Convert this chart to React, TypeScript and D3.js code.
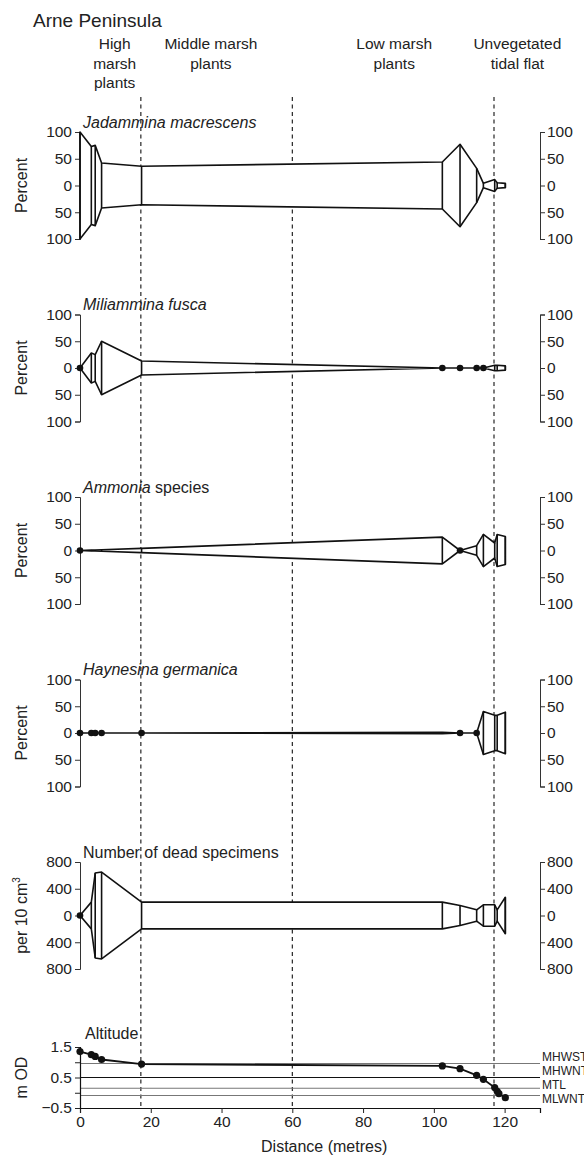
import React, { useEffect, useRef } from 'react';
import * as d3 from 'd3';

// Sample stations along the transect (metres)
const sampleDistances = [0, 3.2, 4.3, 6.1, 17.4, 102.4, 107.4, 112.1, 114.0, 117.2, 117.9, 120.2];

// Relative abundance (%) per station
const jadammina = [100, 73, 75, 42, 36, 44, 77, 32, 4, 11, 5, 4];
const miliammina = [0, 28, 25, 50, 13, 0, 0, 0, 0, 5, 5, 4];
const ammonia = [0, 1, 1, 1.5, 4, 25, 0, 9, 30, 14, 30, 26];
const haynesina = [0, 0, 0, 0, 0, 1.5, 0, 0, 40, 33, 33, 39];
// Number of dead specimens per 10 cm3
const deadSpecimens = [0, 200, 635, 650, 200, 200, 150, 85, 160, 160, 85, 272];

// Altitude survey (m OD)
const altitudeDistances = [0, 3.2, 4.3, 6.1, 17.4, 102.4, 107.4, 112.1, 114.0, 117.2, 117.9, 118.4, 120.2];
const altitudeValues = [1.35, 1.25, 1.19, 1.09, 0.94, 0.88, 0.79, 0.57, 0.44, 0.17, 0.05, -0.03, -0.16];

// Tidal levels
const tidalNames = ['MHWST', 'MHWNT', 'MTL', 'MLWNT'];
const tidalValues = [0.96, 0.5, 0.15, -0.09];
const tidalColors = ['#777', '#111', '#777', '#777'];

// Zone boundaries and labels
const zoneBoundaries = [17.2, 60, 117];
const zoneLabelLines = [
  ['High', 'marsh', 'plants'],
  ['Middle marsh', 'plants'],
  ['Low marsh', 'plants'],
  ['Unvegetated', 'tidal flat'],
];
const zoneLabelCentres = [9.8, 37, 88.8, 123.6];

const percentTicks = [-100, -50, 0, 50, 100];
const countTicks = [-800, -400, 0, 400, 800];
const altitudeTicks = [-0.5, 0, 0.5, 1, 1.5];
const distanceTicks = [0, 20, 40, 60, 80, 100, 120];

const FONT = '"Liberation Sans", Arial, Helvetica, sans-serif';

export default function App() {
  const ref = useRef<SVGSVGElement>(null);

  useEffect(() => {
    const svg = d3.select(ref.current);
    svg.selectAll('*').remove();
    svg.attr('font-family', FONT);

    const x = d3.scaleLinear().domain([0, 130]).range([80, 540]);
    const ya = d3.scaleLinear().domain([-0.5, 1.5]).range([1108, 1047]);

    // Header
    svg.append('text').attr('x', 33).attr('y', 27).attr('font-size', 19).attr('fill', '#222').text('Arne Peninsula');
    zoneLabelLines.forEach((lines, i) => {
      const t = svg.append('text').attr('font-size', 15.5).attr('fill', '#222').attr('text-anchor', 'middle');
      lines.forEach((ln, j) => {
        t.append('tspan').attr('x', x(zoneLabelCentres[i])).attr('y', 49 + j * 19.5).text(ln);
      });
    });

    const panels = [
      { data: jadammina, ticks: percentTicks, max: 100, label: 'Percent', title: [{ t: 'Jadammina macrescens', it: true }] },
      { data: miliammina, ticks: percentTicks, max: 100, label: 'Percent', title: [{ t: 'Miliammina fusca', it: true }] },
      { data: ammonia, ticks: percentTicks, max: 100, label: 'Percent', title: [{ t: 'Ammonia', it: true }, { t: ' species', it: false }] },
      { data: haynesina, ticks: percentTicks, max: 100, label: 'Percent', title: [{ t: 'Haynesina germanica', it: true }] },
      { data: deadSpecimens, ticks: countTicks, max: 800, label: 'per10', title: [{ t: 'Number of dead specimens', it: false }] },
    ];

    // Dashed zone lines (drawn first so marks overlay)
    const dashG = svg.append('g');
    zoneBoundaries.forEach((b) => {
      dashG.append('line')
        .attr('x1', x(b)).attr('x2', x(b))
        .attr('y1', 97).attr('y2', ya(-0.5))
        .attr('stroke', '#111').attr('stroke-width', 1.1)
        .attr('stroke-dasharray', '4,3.5');
    });

    panels.forEach((p, i) => {
      const cy = 185.5 + i * 182.5;
      const half = 53.5;
      const y = d3.scaleLinear().domain([-p.max, p.max]).range([cy + half, cy - half]);
      const g = svg.append('g');

      // left axis
      const la = g.append('g').attr('transform', `translate(${x(0)},0)`)
        .call(d3.axisLeft(y).tickValues(p.ticks).tickSizeOuter(0).tickSize(5).tickPadding(3)
          .tickFormat((d: any) => String(Math.abs(d))));
      // right axis
      const ra = g.append('g').attr('transform', `translate(${x(130)},0)`)
        .call(d3.axisRight(y).tickValues(p.ticks).tickSizeOuter(0).tickSize(5).tickPadding(2)
          .tickFormat((d: any) => String(Math.abs(d))));
      [la, ra].forEach((a) => {
        a.selectAll('text').attr('font-size', 15.5).attr('fill', '#222').attr('font-family', FONT);
        a.selectAll('line').attr('stroke', '#333');
        a.select('.domain').attr('stroke', '#333');
      });

      // y label
      if (p.label === 'Percent') {
        g.append('text').attr('transform', `translate(27,${cy}) rotate(-90)`).attr('text-anchor', 'middle')
          .attr('font-size', 16).attr('fill', '#222').text('Percent');
      } else {
        const t = g.append('text').attr('transform', `translate(27,${cy}) rotate(-90)`).attr('text-anchor', 'middle')
          .attr('font-size', 16).attr('fill', '#222');
        t.append('tspan').text('per 10 cm');
        t.append('tspan').attr('font-size', 10).attr('dy', -7).text('3');
      }

      // title
      const tt = g.append('text').attr('x', 83).attr('y', cy - 58).attr('font-size', 16).attr('fill', '#222');
      p.title.forEach((s) => {
        tt.append('tspan').attr('font-style', s.it ? 'italic' : 'normal').text(s.t);
      });

      // kite
      const pts = sampleDistances.map((d, k) => ({ d, v: p.data[k] }));
      const area = d3.area<{ d: number; v: number }>()
        .x((d) => x(d.d))
        .y0((d) => y(-d.v))
        .y1((d) => y(d.v));
      g.append('path').attr('d', area(pts) as string + 'Z')
        .attr('fill', '#fff').attr('stroke', '#111').attr('stroke-width', 1.6).attr('stroke-linejoin', 'round');
      pts.filter((d) => d.v > 0).forEach((d) => {
        g.append('line').attr('x1', x(d.d)).attr('x2', x(d.d)).attr('y1', y(d.v)).attr('y2', y(-d.v))
          .attr('stroke', '#111').attr('stroke-width', 1.6);
      });
      pts.filter((d) => d.v === 0).forEach((d) => {
        g.append('circle').attr('cx', x(d.d)).attr('cy', y(0)).attr('r', 3.3).attr('fill', '#111');
      });
    });

    // Altitude panel
    const ag = svg.append('g');
    tidalValues.forEach((v, k) => {
      ag.append('line').attr('x1', x(0)).attr('x2', x(130)).attr('y1', ya(v)).attr('y2', ya(v))
        .attr('stroke', tidalColors[k]).attr('stroke-width', 1.1);
    });
    const labelYs = [1061, 1075, 1089, 1103];
    tidalNames.forEach((n, k) => {
      ag.append('text').attr('x', 542).attr('y', labelYs[k]).attr('font-size', 12).attr('fill', '#222').text(n);
    });
    const xa = ag.append('g').attr('transform', `translate(0,${ya(-0.5)})`)
      .call(d3.axisBottom(x).tickValues(distanceTicks).tickSizeOuter(0).tickSize(5).tickPadding(3));
    const yaxis = ag.append('g').attr('transform', `translate(${x(0)},0)`)
      .call(d3.axisLeft(ya).tickValues(altitudeTicks).tickSizeOuter(0).tickSize(5).tickPadding(3)
        .tickFormat((d: any) => (d === 0 || d === 1 ? '' : d3.format('.1f')(d))));
    [xa, yaxis].forEach((a) => {
      a.selectAll('text').attr('font-size', 15.5).attr('fill', '#222').attr('font-family', FONT);
      a.selectAll('line').attr('stroke', '#222');
      a.select('.domain').attr('stroke', '#111').attr('stroke-width', 1.2);
    });
    ag.append('text').attr('transform', `translate(27,${ya(0.5)}) rotate(-90)`).attr('text-anchor', 'middle')
      .attr('font-size', 16).attr('fill', '#222').text('m OD');
    ag.append('text').attr('x', 85).attr('y', 1039).attr('font-size', 16).attr('fill', '#222').text('Altitude');
    ag.append('text').attr('x', x(69)).attr('y', 1152).attr('text-anchor', 'middle').attr('font-size', 16)
      .attr('fill', '#222').text('Distance (metres)');

    const altPts = altitudeDistances.map((d, k) => [d, altitudeValues[k]] as [number, number]);
    const line = d3.line<[number, number]>().x((d) => x(d[0])).y((d) => ya(d[1]));
    ag.append('path').attr('d', line(altPts) as string).attr('fill', 'none').attr('stroke', '#111').attr('stroke-width', 1.8);
    altPts.forEach((d) => {
      ag.append('circle').attr('cx', x(d[0])).attr('cy', ya(d[1])).attr('r', 3.6).attr('fill', '#111');
    });
  }, []);

  return (
    <svg
      ref={ref}
      width={584}
      height={1159}
      style={{ position: 'absolute', left: 0, top: 0, background: '#fff' }}
    />
  );
}
